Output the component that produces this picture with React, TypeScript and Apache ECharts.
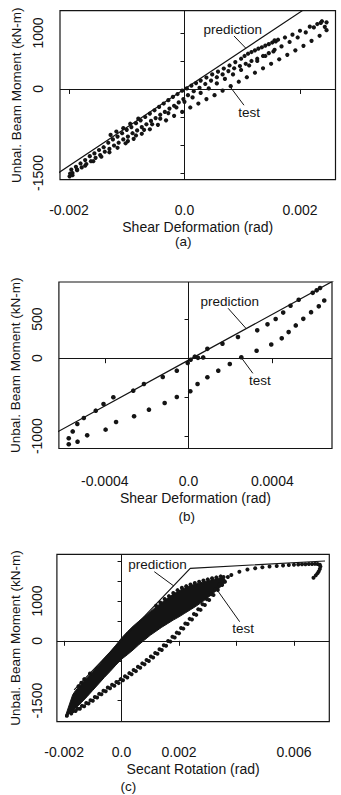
import React, { useEffect, useRef } from "react";
import * as echarts from "echarts";

const FONT = '"Liberation Sans", Arial, Helvetica, sans-serif';
const INK = "#141414";

// ---------------- Panel (a): shear deformation, full test ----------------
const aXTicks = [-0.002, 0, 0.002];
const aXLabels = ["-0.002", "0.0", "0.002"];
const aYTicks = [-1500, -1000, -500, 0, 500, 1000];
const aYLabelValues = [-1500, 0, 1000];
const aYLabels = ["-1500", "0", "1000"];
const aPrediction = [[-0.0022, -1510], [0, 0], [0.00205, 1405]];
const aTestTop = [
  [-0.00196, -1440], [-0.00188, -1390], [-0.0018, -1330], [-0.00172, -1270], [-0.00164, -1200],
  [-0.00156, -1150], [-0.00148, -1090], [-0.0014, -1040], [-0.00132, -960], [-0.00128, -820],
  [-0.00124, -900], [-0.00118, -760], [-0.00116, -850], [-0.00108, -790], [-0.00106, -700],
  [-0.001, -730], [-0.00094, -620], [-0.00092, -680], [-0.00084, -610], [-0.0008, -530],
  [-0.00076, -560], [-0.00068, -500], [-0.0006, -440], [-0.00052, -380], [-0.00044, -320],
  [-0.00036, -260], [-0.00028, -200], [-0.0002, -140], [-0.00012, -90], [-0.00004, -30],
  [0.00004, 10], [0.00012, 60], [0.0002, 105], [0.00028, 150], [0.00038, 205], [0.00048, 260],
  [0.00058, 310], [0.00068, 365], [0.00078, 420], [0.00088, 480], [0.00098, 540], [0.00104, 590],
  [0.0011, 630], [0.00116, 660], [0.00122, 690], [0.00128, 720], [0.00134, 745], [0.0014, 775],
  [0.00146, 800], [0.00152, 830], [0.00156, 870], [0.00158, 850], [0.00162, 880],
];
const aTestMid = [
  [-0.00194, -1500], [-0.00186, -1450], [-0.00178, -1400], [-0.0017, -1340], [-0.00162, -1290],
  [-0.00154, -1230], [-0.00146, -1180], [-0.00138, -1120], [-0.0013, -1070], [-0.00122, -1010],
  [-0.00114, -960], [-0.00106, -900], [-0.00098, -850], [-0.0009, -790], [-0.00082, -740],
  [-0.00074, -680], [-0.00066, -630], [-0.00058, -570], [-0.0005, -520], [-0.00042, -460],
  [-0.00034, -410], [-0.00026, -350], [-0.00018, -300], [-0.0001, -240], [-0.00002, -180],
  [0.00006, -110], [0.00016, -40], [0.00026, 20], [0.00036, 90], [0.00046, 150], [0.00056, 210],
  [0.00066, 260], [0.00076, 320], [0.00086, 370], [0.00096, 410], [0.00106, 450], [0.00116, 500],
  [0.00126, 540], [0.00136, 590], [0.00146, 640], [0.00156, 700],
];
const aTestLoadA = [
  [-0.00098, -930], [-0.00084, -830], [-0.0007, -730], [-0.00056, -630], [-0.00042, -530],
  [-0.00028, -430], [-0.00014, -330], [0, -230], [0.00014, -150], [0.00028, -70], [0.00042, 10],
  [0.00056, 100], [0.0007, 180], [0.00084, 260], [0.00098, 340], [0.00112, 420], [0.00126, 500],
  [0.0014, 590], [0.00154, 670], [0.00168, 760], [0.00182, 840], [0.00196, 920], [0.0021, 1010],
  [0.00224, 1100], [0.00236, 1180],
];
const aTestLoadB = [
  [-0.00199, -1560], [-0.00194, -1540], [-0.00198, -1510], [-0.00186, -1440], [-0.00172, -1370],
  [-0.00158, -1290], [-0.00144, -1210], [-0.0013, -1130], [-0.00116, -1050], [-0.00102, -970],
  [-0.00088, -890], [-0.00074, -800], [-0.0006, -720], [-0.00046, -640], [-0.00032, -560],
  [-0.00018, -480], [-0.00004, -410], [0.0001, -330], [0.00024, -260], [0.00038, -180],
  [0.00052, -110], [0.00066, -30], [0.0008, 50], [0.00094, 130], [0.00108, 210], [0.00122, 290],
  [0.00136, 370], [0.0015, 450], [0.00164, 530], [0.00178, 610], [0.00192, 690], [0.00206, 770],
  [0.0022, 860], [0.00234, 950], [0.00246, 1050],
];
const aTestPeak = [
  [0.00238, 1210], [0.00246, 1190], [0.00243, 1110], [0.0023, 1160], [0.00217, 1113],
  [0.002, 1040], [0.00187, 970], [0.00174, 920],
];
const aPredLabelAt = [0.000835, 1066];
const aPredLeader = [[0.000857, 947], [0.00106, 730]];
const aTestLabelAt = [0.00112, -416];
const aTestLeader = [[0.00103, -290], [0.00079, 40]];

// ---------------- Panel (b): shear deformation, early cycles ----------------
const bXTicks = [-0.0004, 0, 0.0004];
const bXLabels = ["-0.0004", "0.0", "0.0004"];
const bYTicks = [-1000, -500, 0, 500];
const bYLabelValues = [-1000, 0, 500];
const bYLabels = ["-1000", "0", "500"];
const bPrediction = [[-0.00063, -951], [0, -25], [0.0007, 1004]];
const bTestUpper = [
  [-0.000572, -1104], [-0.00053, -1070], [-0.000572, -1027], [-0.000553, -939], [-0.000531, -844],
  [-0.0005, -767], [-0.000443, -673], [-0.000406, -587], [-0.000359, -501], [-0.000264, -416],
  [-0.000213, -331], [-0.000123, -241], [-0.000056, -160], [-0.000004, -62], [0.00001, -20],
  [0.00003, 20], [0.000045, 5], [0.00007, 10], [0.00009, 120], [0.000162, 186], [0.000236, 272],
  [0.000328, 357], [0.000377, 434], [0.000416, 502], [0.000452, 585], [0.000487, 672],
  [0.000526, 750], [0.000593, 838], [0.000628, 900], [0.000612, 870],
];
const bTestLower = [
  [-0.000484, -989], [-0.000396, -916], [-0.000346, -818], [-0.00026, -745], [-0.000189, -660],
  [-0.000114, -574], [-0.000056, -497], [0.0000085, -424], [0.000043, -331], [0.00009, -245],
  [0.000142, -160], [0.000197, -74], [0.000252, 12], [0.000325, 95], [0.000395, 175],
  [0.000445, 255], [0.000478, 335], [0.000512, 420], [0.000548, 505], [0.000585, 590],
  [0.000622, 665], [0.000648, 740],
];
const bPredLabelAt = [0.000197, 729];
const bPredLeader = [[0.000189, 640], [0.000275, 380]];
const bTestLabelAt = [0.000341, -288];
const bTestLeader = [[0.000307, -194], [0.000254, 0]];

// ---------------- Panel (c): secant rotation ----------------
const cXTicks = [-0.002, 0, 0.002, 0.004, 0.006];
const cXLabelValues = [-0.002, 0, 0.002, 0.006];
const cXLabels = ["-0.002", "0.0", "0.002", "0.006"];
const cYTicks = [-1500, -1000, -500, 0, 500, 1000, 1500, 2000];
const cYLabelValues = [-1500, 0, 1000];
const cYLabels = ["-1500", "0", "1000"];
const cPrediction = [[-0.00165, -1230], [0.00239, 1817], [0.00708, 2000]];
const cBandUpperEdge = [
  [-0.00195, -1880], [-0.0018, -1560], [-0.0017, -1350], [-0.0016, -1245], [-0.0015, -1165],
  [-0.0014, -1085], [-0.0013, -1005], [-0.0012, -925], [-0.001, -770], [-0.0008, -610],
  [-0.0006, -440], [-0.0004, -280], [-0.0002, -110], [0, 70], [0.0002, 225], [0.0004, 365],
  [0.0006, 490], [0.0008, 610], [0.001, 730], [0.0012, 850], [0.0014, 960], [0.0016, 1070],
  [0.0018, 1170], [0.002, 1255], [0.0022, 1325], [0.0024, 1385], [0.0027, 1445], [0.003, 1505],
  [0.0033, 1555], [0.0035, 1585], [0.0036, 1545],
];
const cBandLowerEdge = [
  [0.0036, 1460], [0.0034, 1320], [0.0032, 1200], [0.003, 1080], [0.0028, 970], [0.0026, 870],
  [0.0024, 780], [0.0022, 690], [0.002, 600], [0.0018, 520], [0.0016, 430], [0.0014, 340],
  [0.0012, 240], [0.001, 140], [0.0008, 20], [0.0006, -100], [0.0004, -230], [0.0002, -350],
  [0, -460], [-0.0002, -610], [-0.0004, -770], [-0.0006, -920], [-0.0008, -1080], [-0.001, -1240],
  [-0.0012, -1400], [-0.0014, -1550], [-0.0016, -1690], [-0.0018, -1815], [-0.00195, -1910],
];
const cBandTexture = [
  [-0.0015, -1140], [-0.0014, -1050], [-0.0013, -960], [-0.0011, -820], [0.0012, 880],
  [0.00135, 960], [0.0015, 1050], [0.00165, 1120], [0.0018, 1200], [0.00195, 1270], [0.0021, 1330],
  [0.00225, 1370], [0.0024, 1410], [0.00255, 1450], [0.0027, 1480], [0.00285, 1510], [0.003, 1540],
  [0.00315, 1570], [0.0033, 1590], [0.00345, 1615], [0.00355, 1600],
];
const cLowerBranch = [
  [-0.0019, -1880], [-0.00175, -1820], [-0.0016, -1760], [-0.00145, -1700], [-0.0013, -1640],
  [-0.00115, -1570], [-0.001, -1500], [-0.00085, -1420], [-0.0007, -1340], [-0.00055, -1265],
  [-0.0004, -1190], [-0.00025, -1125], [-0.0001, -1060], [0.00005, -990], [0.0002, -920],
  [0.00035, -840], [0.0005, -760], [0.00065, -675], [0.0008, -590], [0.00095, -505], [0.0011, -420],
  [0.00125, -325], [0.0014, -230], [0.00155, -125], [0.0017, -20], [0.00185, 85], [0.002, 190],
  [0.00215, 305], [0.0023, 420], [0.00245, 535], [0.0026, 650], [0.00275, 775], [0.0029, 900],
  [0.00305, 1025], [0.0032, 1150], [0.00335, 1275], [0.0035, 1400], [0.0036, 1480],
];
const cLowerBranchInner = [
  [-0.00168, -1760], [-0.00153, -1700], [-0.00138, -1630], [-0.00123, -1560], [-0.00108, -1490],
  [-0.00093, -1410], [-0.00078, -1330], [-0.00063, -1250], [-0.00048, -1170], [-0.00033, -1100],
  [-0.00018, -1030], [-0.00003, -960], [0.00012, -890], [0.00027, -810], [0.00042, -730],
  [0.00057, -650], [0.00072, -565], [0.00087, -480], [0.00102, -395], [0.00117, -305],
  [0.00132, -210], [0.00147, -110], [0.00162, -5], [0.00177, 100], [0.00192, 205], [0.00207, 320],
  [0.00222, 435], [0.00237, 550], [0.00252, 670], [0.00267, 790], [0.00282, 915], [0.00297, 1040],
  [0.00312, 1165], [0.00327, 1290], [0.00342, 1410],
];
const cExcursion = [
  [0.0037, 1600], [0.00382, 1650], [0.0041, 1730], [0.00438, 1785], [0.00465, 1820],
  [0.0049, 1845], [0.00515, 1862], [0.0054, 1875], [0.00562, 1888], [0.00582, 1898],
  [0.006, 1905], [0.00615, 1912], [0.00628, 1917], [0.0064, 1920], [0.00652, 1923],
  [0.00663, 1926], [0.00673, 1928], [0.00682, 1925], [0.0069, 1905], [0.00692, 1860],
  [0.0069, 1800], [0.00686, 1740], [0.00682, 1690], [0.00676, 1640], [0.00668, 1580],
];
const cPredLabelAt = [0.00125, 1917];
const cPredLeader = [[0.00114, 1732], [0.00182, 1373]];
const cTestLabelAt = [0.00423, 313];
const cTestLeader = [[0.00411, 479], [0.00337, 1231]];

const yName = "Unbal. Beam Moment (kN-m)";

function makeFormatter(values: number[], labels: string[]) {
  return (v: number) => {
    for (let i = 0; i < values.length; i++) {
      if (Math.abs(v - values[i]) <= Math.abs(values[i]) * 1e-6 + 1e-12) return labels[i];
    }
    return "";
  };
}

function xAxisFor(grid: number, min: number, max: number, ticks: number[], labelVals: number[], labels: string[], name: string, margin: number, nameGap: number) {
  return {
    type: "value", gridIndex: grid, min, max, name, nameLocation: "middle", nameGap,
    nameTextStyle: { color: INK, fontSize: 14, fontFamily: FONT },
    axisLine: { show: false },
    axisTick: { show: true, inside: false, length: 5, customValues: ticks, lineStyle: { color: INK, width: 1 } },
    axisLabel: { show: true, customValues: labelVals, formatter: makeFormatter(labelVals, labels), margin, color: INK, fontSize: 14, fontFamily: FONT },
    splitLine: { show: false },
  };
}

function yAxisFor(grid: number, min: number, max: number, ticks: number[], labelVals: number[], labels: string[], margin: number, nameGap: number) {
  return {
    type: "value", gridIndex: grid, min, max, name: yName, nameLocation: "middle", nameGap,
    nameTextStyle: { color: INK, fontSize: 13.5, fontFamily: FONT },
    axisLine: { show: false },
    axisTick: { show: true, inside: false, length: 4, customValues: ticks, lineStyle: { color: INK, width: 1 } },
    axisLabel: { show: true, rotate: 90, customValues: labelVals, formatter: makeFormatter(labelVals, labels), margin, color: INK, fontSize: 14, fontFamily: FONT },
    splitLine: { show: false },
  };
}

function predictionSeries(idx: number, data: number[][], predAt: number[], predLeader: number[][], testAt: number[], testLeader: number[][]) {
  return {
    type: "line", xAxisIndex: idx, yAxisIndex: idx, data, symbol: "none", clip: true, z: 3,
    lineStyle: { color: INK, width: 1.2 },
    markLine: {
      silent: true, symbol: ["none", "none"], label: { show: false },
      lineStyle: { color: INK, width: 1, type: "solid" },
      emphasis: { disabled: true },
      data: [
        { xAxis: 0 },
        { yAxis: 0 },
        [{ coord: predLeader[0] }, { coord: predLeader[1] }],
        [{ coord: testLeader[0] }, { coord: testLeader[1] }],
      ],
    },
    markPoint: {
      silent: true, symbol: "circle", symbolSize: 1,
      itemStyle: { color: "rgba(0,0,0,0)" },
      label: { show: true, position: "inside", formatter: "{b}", color: INK, fontSize: 13.5, fontFamily: FONT },
      data: [
        { name: "prediction", coord: predAt },
        { name: "test", coord: testAt },
      ],
    },
  };
}

function dots(idx: number, data: number[][], size: number) {
  return {
    type: "scatter", xAxisIndex: idx, yAxisIndex: idx, data, symbol: "circle", symbolSize: size,
    itemStyle: { color: INK, opacity: 1 }, z: 2, clip: true,
  };
}

export default function App() {
  const ref = useRef<HTMLDivElement>(null);
  useEffect(() => {
    if (!ref.current) return;
    const chart = echarts.init(ref.current, undefined, { renderer: "svg" });
    const bandOutline = [...cBandUpperEdge, ...cBandLowerEdge];
    chart.setOption({
      animation: false,
      backgroundColor: "#fff",
      grid: [
        { left: 60, top: 10.7, width: 275.5, height: 169, show: true, borderColor: INK, borderWidth: 1.2, backgroundColor: "transparent" },
        { left: 55, top: 282, width: 277, height: 166.5, show: true, borderColor: INK, borderWidth: 1.2, backgroundColor: "transparent" },
        { left: 53, top: 554.3, width: 276.3, height: 167.4, show: true, borderColor: INK, borderWidth: 1.2, backgroundColor: "transparent" },
      ],
      xAxis: [
        xAxisFor(0, -0.002156, 0.002615, aXTicks, aXTicks, aXLabels, "Shear Deformation (rad)", 23, 40),
        xAxisFor(1, -0.000619, 0.000685, bXTicks, bXTicks, bXLabels, "Shear Deformation (rad)", 25, 42),
        xAxisFor(2, -0.00225, 0.00723, cXTicks, cXLabelValues, cXLabels, "Secant Rotation (rad)", 23, 40),
      ],
      yAxis: [
        yAxisFor(0, -1620, 1398, aYTicks, aYLabelValues, aYLabels, 15, 29),
        yAxisFor(1, -1158, 977, bYTicks, bYLabelValues, bYLabels, 15, 27),
        yAxisFor(2, -2027, 2168, cYTicks, cYLabelValues, cYLabels, 13, 27),
      ],
      graphic: [
        { type: "text", x: 183.3, y: 241.7, style: { text: "(a)", align: "center", verticalAlign: "middle", fontSize: 13.5, fontFamily: FONT, fill: INK } },
        { type: "text", x: 186.7, y: 516.7, style: { text: "(b)", align: "center", verticalAlign: "middle", fontSize: 13.5, fontFamily: FONT, fill: INK } },
        { type: "text", x: 128.3, y: 786.7, style: { text: "(c)", align: "center", verticalAlign: "middle", fontSize: 13.5, fontFamily: FONT, fill: INK } },
      ],
      series: [
        predictionSeries(0, aPrediction, aPredLabelAt, aPredLeader, aTestLabelAt, aTestLeader),
        dots(0, [...aTestTop, ...aTestMid, ...aTestLoadA, ...aTestLoadB, ...aTestPeak], 4.2),
        predictionSeries(1, bPrediction, bPredLabelAt, bPredLeader, bTestLabelAt, bTestLeader),
        dots(1, [...bTestUpper, ...bTestLower], 4.6),
        predictionSeries(2, cPrediction, cPredLabelAt, cPredLeader, cTestLabelAt, cTestLeader),
        {
          type: "custom", xAxisIndex: 2, yAxisIndex: 2, data: [[0, 0]], z: 2, silent: true,
          renderItem: (_params: any, api: any) => ({
            type: "polygon",
            shape: { points: bandOutline.map((p) => api.coord(p)) },
            style: { fill: INK, stroke: INK, lineWidth: 1 },
          }),
        },
        dots(2, [...cBandTexture, ...cLowerBranch, ...cLowerBranchInner, ...cExcursion], 4),
      ],
    });
    return () => chart.dispose();
  }, []);
  return <div ref={ref} style={{ position: "absolute", left: 0, top: 0, width: 341, height: 795 }} />;
}
